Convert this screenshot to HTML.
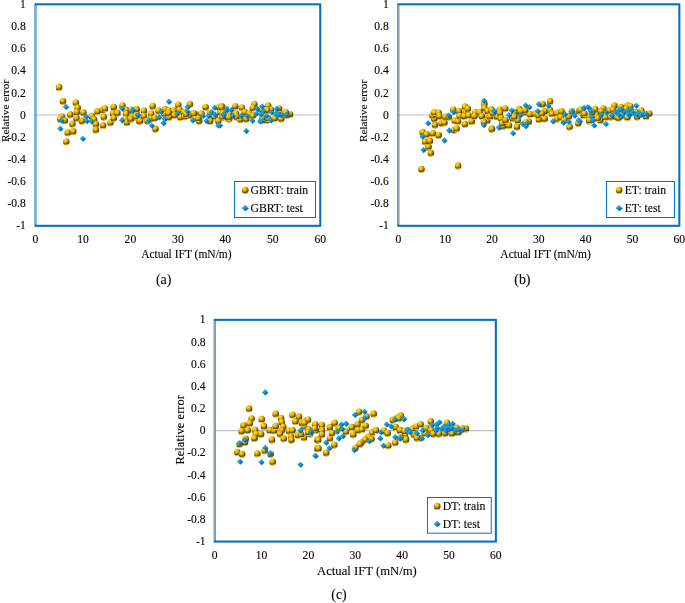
<!DOCTYPE html>
<html lang="en"><head><meta charset="utf-8"><title>Relative error plots</title>
<style>
html,body{margin:0;padding:0;background:#fff;}
body{width:685px;height:603px;overflow:hidden;}
svg{display:block;}
svg text{font-family:"Liberation Serif","Times New Roman",serif;fill:#000;stroke:#000;stroke-width:0.1px;}
.h{letter-spacing:0;}
.hc{letter-spacing:0;}
</style></head><body>
<svg width="685" height="603" viewBox="0 0 685 603">
<defs>
<radialGradient id="gs" cx="0.37" cy="0.28" r="0.70">
<stop offset="0" stop-color="#FFE000"/><stop offset="0.24" stop-color="#F8CA00"/><stop offset="0.44" stop-color="#D8A800"/><stop offset="0.62" stop-color="#9A7605"/><stop offset="0.82" stop-color="#5E4805"/><stop offset="1" stop-color="#5E4805"/>
</radialGradient>
<linearGradient id="gr" x1="0.4" y1="0" x2="0.5" y2="1">
<stop offset="0" stop-color="#FFD636" stop-opacity="0"/><stop offset="0.8" stop-color="#FFD636" stop-opacity="0"/><stop offset="0.92" stop-color="#FFD636" stop-opacity="0.9"/><stop offset="1" stop-color="#FFDC50" stop-opacity="1"/>
</linearGradient>
<g id="s"><ellipse rx="3.3" ry="3.55" fill="url(#gs)"/><ellipse rx="3.3" ry="3.55" fill="url(#gr)"/></g>
<g id="d"><path d="M0,-3.05 L3.05,0 L0,3.05 L-3.05,0 Z" fill="#1793CF"/><path d="M0,-3.05 L-3.05,0 L0,0 Z" fill="#1FA6E8"/><path d="M3.05,0 L0,3.05 L0,0 Z" fill="#0A689A"/></g>
<g id="dl"><path d="M0,-3.05 L3.5,0 L0,3.05 L-3.5,0 Z" fill="#1793CF"/><path d="M0,-3.05 L-3.5,0 L0,0 Z" fill="#1FA6E8"/><path d="M3.5,0 L0,3.05 L0,0 Z" fill="#0A689A"/></g>
</defs>
<rect width="685" height="603" fill="#fff"/>
<g id="chart-a">
<line x1="35.5" y1="115" x2="320.25" y2="115" stroke="#BFBFBF" stroke-width="1.1"/>
<rect x="35.5" y="4.3" width="284.75" height="221.5" fill="none" stroke="#0070C0" stroke-width="2.05"/>
<line x1="35.5" y1="5.5" x2="35.5" y2="224.6" stroke="#AAB4BE" stroke-width="1.25" opacity="0.9"/>
<text class="h" x="25.8" y="7.9" font-size="11.6" text-anchor="end">1</text>
<text class="h" x="25.8" y="30.05" font-size="11.6" text-anchor="end">0.8</text>
<text class="h" x="25.8" y="52.2" font-size="11.6" text-anchor="end">0.6</text>
<text class="h" x="25.8" y="74.35" font-size="11.6" text-anchor="end">0.4</text>
<text class="h" x="25.8" y="96.5" font-size="11.6" text-anchor="end">0.2</text>
<text class="h" x="25.8" y="118.65" font-size="11.6" text-anchor="end">0</text>
<text class="h" x="25.8" y="140.8" font-size="11.6" text-anchor="end">-0.2</text>
<text class="h" x="25.8" y="162.95" font-size="11.6" text-anchor="end">-0.4</text>
<text class="h" x="25.8" y="185.1" font-size="11.6" text-anchor="end">-0.6</text>
<text class="h" x="25.8" y="207.25" font-size="11.6" text-anchor="end">-0.8</text>
<text class="h" x="25.8" y="229.4" font-size="11.6" text-anchor="end">-1</text>
<text class="h" x="35.5" y="243" font-size="11.6" text-anchor="middle">0</text>
<text class="h" x="82.96" y="243" font-size="11.6" text-anchor="middle">10</text>
<text class="h" x="130.42" y="243" font-size="11.6" text-anchor="middle">20</text>
<text class="h" x="177.88" y="243" font-size="11.6" text-anchor="middle">30</text>
<text class="h" x="225.33" y="243" font-size="11.6" text-anchor="middle">40</text>
<text class="h" x="272.79" y="243" font-size="11.6" text-anchor="middle">50</text>
<text class="h" x="320.25" y="243" font-size="11.6" text-anchor="middle">60</text>
<text transform="translate(8.5 142.1) rotate(-90)" font-size="11.3" textLength="62.4" lengthAdjust="spacing">Relative error</text>
<text class="h" x="186.4" y="257.5" font-size="11.5" text-anchor="middle">Actual IFT (mN/m)</text>
<text x="163.6" y="284.3" font-size="13.9" text-anchor="middle">(a)</text>
<g><use href="#s" x="59.1" y="87.4"/><use href="#s" x="62.95" y="101.2"/><use href="#s" x="75.9" y="102.8"/><use href="#s" x="77.7" y="107.7"/><use href="#s" x="76.8" y="112.3"/><use href="#s" x="70.2" y="114.8"/><use href="#s" x="83.4" y="112.8"/><use href="#s" x="61.9" y="116.7"/><use href="#s" x="60.4" y="119.3"/><use href="#s" x="64.8" y="120.8"/><use href="#s" x="76.5" y="118.2"/><use href="#s" x="81.9" y="121.1"/><use href="#s" x="72.4" y="124"/><use href="#s" x="67.7" y="132.8"/><use href="#s" x="73.3" y="131.6"/><use href="#s" x="66.3" y="141.8"/><use href="#s" x="91.8" y="116.4"/><use href="#s" x="94" y="119.6"/><use href="#s" x="95.9" y="124.3"/><use href="#s" x="95.9" y="129.9"/><use href="#s" x="97.4" y="111.6"/><use href="#s" x="102.8" y="110.1"/><use href="#s" x="105" y="108.7"/><use href="#s" x="103.8" y="117"/><use href="#s" x="103.1" y="125.5"/><use href="#s" x="110.4" y="122.8"/><use href="#s" x="113.7" y="107.2"/><use href="#s" x="113" y="113.5"/><use href="#s" x="113.7" y="118.2"/><use href="#s" x="117.4" y="113.1"/><use href="#s" x="122.5" y="105.8"/><use href="#s" x="126.1" y="110.1"/><use href="#s" x="126.1" y="113.8"/><use href="#s" x="125.4" y="118.9"/><use href="#s" x="126.9" y="122.6"/><use href="#s" x="130.5" y="119.6"/><use href="#s" x="132" y="110.9"/><use href="#s" x="136.4" y="113.8"/><use href="#s" x="137.1" y="117.4"/><use href="#s" x="139.3" y="121.1"/><use href="#s" x="131.5" y="110.1"/><use href="#s" x="136.6" y="109.4"/><use href="#s" x="130.7" y="118.9"/><use href="#s" x="135.8" y="116.7"/><use href="#s" x="140.2" y="121.1"/><use href="#s" x="143.9" y="110.9"/><use href="#s" x="143.9" y="116"/><use href="#s" x="152.6" y="106.2"/><use href="#s" x="151.2" y="113.8"/><use href="#s" x="150.4" y="118.9"/><use href="#s" x="155.5" y="129.1"/><use href="#s" x="154.8" y="118.2"/><use href="#s" x="158.5" y="110.9"/><use href="#s" x="165" y="109.4"/><use href="#s" x="168.7" y="110.9"/><use href="#s" x="168.7" y="117.4"/><use href="#s" x="164.3" y="113.8"/><use href="#s" x="173.8" y="110.9"/><use href="#s" x="178.2" y="105"/><use href="#s" x="179.6" y="110.1"/><use href="#s" x="180.4" y="117.4"/><use href="#s" x="184" y="112.3"/><use href="#s" x="184.7" y="116.7"/><use href="#s" x="189.9" y="104.3"/><use href="#s" x="189.1" y="115.3"/><use href="#s" x="195.7" y="114.5"/><use href="#s" x="195" y="118.2"/><use href="#s" x="199.3" y="121.1"/><use href="#s" x="201.5" y="113.8"/><use href="#s" x="205.6" y="107.2"/><use href="#s" x="210.3" y="113.1"/><use href="#s" x="209.6" y="119.6"/><use href="#s" x="214.7" y="116.7"/><use href="#s" x="218.3" y="121.1"/><use href="#s" x="219" y="107.2"/><use href="#s" x="222" y="106.5"/><use href="#s" x="220.5" y="112.3"/><use href="#s" x="225.6" y="109.4"/><use href="#s" x="224.2" y="117.4"/><use href="#s" x="229.3" y="113.8"/><use href="#s" x="229.3" y="118.9"/><use href="#s" x="221.5" y="107.2"/><use href="#s" x="235.3" y="106.5"/><use href="#s" x="241.9" y="107.7"/><use href="#s" x="222.9" y="113.8"/><use href="#s" x="228.8" y="117.4"/><use href="#s" x="236.1" y="113.8"/><use href="#s" x="240.4" y="119.6"/><use href="#s" x="244.8" y="112.3"/><use href="#s" x="249.2" y="113.8"/><use href="#s" x="254.3" y="104.3"/><use href="#s" x="252.8" y="108"/><use href="#s" x="260.9" y="109.4"/><use href="#s" x="268.2" y="105.8"/><use href="#s" x="271.1" y="110.1"/><use href="#s" x="266.7" y="120.4"/><use href="#s" x="262.3" y="118.2"/><use href="#s" x="278.4" y="110.9"/><use href="#s" x="281.3" y="118.9"/><use href="#s" x="284.2" y="113.8"/><use href="#s" x="290.1" y="114.5"/><use href="#s" x="287.2" y="115.3"/><use href="#s" x="267.1" y="110.3"/><use href="#s" x="279.1" y="108.7"/><use href="#s" x="236.4" y="116.9"/><use href="#s" x="246.3" y="119.1"/><use href="#s" x="252.8" y="115.8"/><use href="#s" x="268.2" y="118.5"/><use href="#s" x="285.7" y="112.5"/><use href="#s" x="274.7" y="118.5"/><use href="#s" x="168.6" y="113.1"/><use href="#s" x="186.1" y="114.2"/><use href="#s" x="198.2" y="118.5"/><use href="#s" x="210.2" y="121.3"/><use href="#s" x="222.3" y="116.9"/><use href="#s" x="174.6" y="115.3"/><use href="#s" x="193.8" y="113.6"/><use href="#s" x="147.5" y="121"/></g>
<g><use href="#d" x="66" y="106.9"/><use href="#d" x="61.6" y="120.4"/><use href="#d" x="60.4" y="128.7"/><use href="#d" x="82.9" y="138.8"/><use href="#d" x="86.3" y="116.7"/><use href="#d" x="87" y="121.1"/><use href="#d" x="91.8" y="121.4"/><use href="#d" x="122.2" y="108.7"/><use href="#d" x="122.2" y="120.4"/><use href="#d" x="133" y="110.1"/><use href="#d" x="138.1" y="115.3"/><use href="#d" x="169" y="101.8"/><use href="#d" x="132.9" y="110.1"/><use href="#d" x="138" y="115.3"/><use href="#d" x="149" y="120.4"/><use href="#d" x="151.9" y="125.8"/><use href="#d" x="161.4" y="111.6"/><use href="#d" x="159.2" y="117.4"/><use href="#d" x="165" y="118.9"/><use href="#d" x="163.6" y="123.3"/><use href="#d" x="177.4" y="113.8"/><use href="#d" x="187.7" y="107.2"/><use href="#d" x="187.7" y="111.6"/><use href="#d" x="192.8" y="120.4"/><use href="#d" x="203" y="116"/><use href="#d" x="206.6" y="121.1"/><use href="#d" x="208.8" y="116"/><use href="#d" x="211.8" y="112.3"/><use href="#d" x="214.7" y="107.7"/><use href="#d" x="218.3" y="125.5"/><use href="#d" x="223.4" y="114.5"/><use href="#d" x="227.1" y="110.1"/><use href="#d" x="226.6" y="109.4"/><use href="#d" x="231.4" y="110.1"/><use href="#d" x="223.6" y="115.3"/><use href="#d" x="233.1" y="116"/><use href="#d" x="241.2" y="116"/><use href="#d" x="247" y="116"/><use href="#d" x="220" y="125.5"/><use href="#d" x="246.3" y="131"/><use href="#d" x="252.4" y="120.8"/><use href="#d" x="257.2" y="108.7"/><use href="#d" x="262.3" y="106.5"/><use href="#d" x="256.5" y="113.8"/><use href="#d" x="260.9" y="114.5"/><use href="#d" x="260.1" y="121.4"/><use href="#d" x="266.7" y="116"/><use href="#d" x="271.1" y="120.4"/><use href="#d" x="271.8" y="112.3"/><use href="#d" x="276.9" y="108.7"/><use href="#d" x="276.2" y="114.5"/><use href="#d" x="281.3" y="115.3"/><use href="#d" x="286.4" y="115"/><use href="#d" x="262.2" y="121.3"/><use href="#d" x="278.6" y="114.7"/><use href="#d" x="263.8" y="111.4"/><use href="#d" x="215.1" y="114.5"/></g>
<rect x="234.5" y="181.5" width="81" height="36" fill="#fff" stroke="#0070C0" stroke-width="1"/>
<use href="#s" x="245.3" y="190.3"/><use href="#dl" x="245.3" y="208.3"/>
<text class="h" x="250.5" y="193.7" font-size="11.7">GBRT: train</text>
<text class="h" x="250.5" y="211.6" font-size="11.7">GBRT: test</text>
</g>
<g id="chart-b">
<line x1="398.3" y1="115" x2="679.35" y2="115" stroke="#BFBFBF" stroke-width="1.1"/>
<rect x="398.3" y="4.3" width="281.05" height="221.5" fill="none" stroke="#0070C0" stroke-width="2.05"/>
<line x1="398.3" y1="5.5" x2="398.3" y2="224.6" stroke="#AAB4BE" stroke-width="1.25" opacity="0.9"/>
<text class="h" x="388.8" y="7.9" font-size="11.6" text-anchor="end">1</text>
<text class="h" x="388.8" y="30.05" font-size="11.6" text-anchor="end">0.8</text>
<text class="h" x="388.8" y="52.2" font-size="11.6" text-anchor="end">0.6</text>
<text class="h" x="388.8" y="74.35" font-size="11.6" text-anchor="end">0.4</text>
<text class="h" x="388.8" y="96.5" font-size="11.6" text-anchor="end">0.2</text>
<text class="h" x="388.8" y="118.65" font-size="11.6" text-anchor="end">0</text>
<text class="h" x="388.8" y="140.8" font-size="11.6" text-anchor="end">-0.2</text>
<text class="h" x="388.8" y="162.95" font-size="11.6" text-anchor="end">-0.4</text>
<text class="h" x="388.8" y="185.1" font-size="11.6" text-anchor="end">-0.6</text>
<text class="h" x="388.8" y="207.25" font-size="11.6" text-anchor="end">-0.8</text>
<text class="h" x="388.8" y="229.4" font-size="11.6" text-anchor="end">-1</text>
<text class="h" x="398.3" y="243" font-size="11.6" text-anchor="middle">0</text>
<text class="h" x="445.14" y="243" font-size="11.6" text-anchor="middle">10</text>
<text class="h" x="491.98" y="243" font-size="11.6" text-anchor="middle">20</text>
<text class="h" x="538.83" y="243" font-size="11.6" text-anchor="middle">30</text>
<text class="h" x="585.67" y="243" font-size="11.6" text-anchor="middle">40</text>
<text class="h" x="632.51" y="243" font-size="11.6" text-anchor="middle">50</text>
<text class="h" x="679.35" y="243" font-size="11.6" text-anchor="middle">60</text>
<text transform="translate(367.2 142.1) rotate(-90)" font-size="11.3" textLength="62.4" lengthAdjust="spacing">Relative error</text>
<text class="h" x="545.6" y="257.5" font-size="11.5" text-anchor="middle">Actual IFT (mN/m)</text>
<text x="522.4" y="284.3" font-size="13.9" text-anchor="middle">(b)</text>
<g><use href="#s" x="421.5" y="169.3"/><use href="#s" x="458.1" y="165.9"/><use href="#s" x="430.9" y="153.1"/><use href="#s" x="428.5" y="146.9"/><use href="#s" x="425.1" y="141.8"/><use href="#s" x="429.9" y="141.1"/><use href="#s" x="422.6" y="132.3"/><use href="#s" x="426.6" y="134.5"/><use href="#s" x="432.8" y="133.5"/><use href="#s" x="438.7" y="135.3"/><use href="#s" x="435" y="125"/><use href="#s" x="434.3" y="118.9"/><use href="#s" x="432.4" y="115.5"/><use href="#s" x="434.3" y="112.6"/><use href="#s" x="438.7" y="113.1"/><use href="#s" x="439.4" y="116.3"/><use href="#s" x="441.6" y="123.3"/><use href="#s" x="444.5" y="122.8"/><use href="#s" x="445.3" y="117"/><use href="#s" x="448.9" y="117"/><use href="#s" x="453.3" y="109.7"/><use href="#s" x="454.7" y="120.7"/><use href="#s" x="458.1" y="121.4"/><use href="#s" x="454" y="130.1"/><use href="#s" x="456.6" y="128.7"/><use href="#s" x="459.1" y="111.2"/><use href="#s" x="459.6" y="116"/><use href="#s" x="465" y="106.8"/><use href="#s" x="465.7" y="111.9"/><use href="#s" x="464.2" y="116.3"/><use href="#s" x="467.9" y="109"/><use href="#s" x="468.6" y="115.5"/><use href="#s" x="465" y="124.3"/><use href="#s" x="471.8" y="121.4"/><use href="#s" x="475.2" y="112.6"/><use href="#s" x="474.5" y="116.3"/><use href="#s" x="479.6" y="112.6"/><use href="#s" x="481.8" y="116.3"/><use href="#s" x="484.4" y="103.9"/><use href="#s" x="484.4" y="108.2"/><use href="#s" x="487.6" y="111.2"/><use href="#s" x="488.3" y="117"/><use href="#s" x="487.3" y="120.7"/><use href="#s" x="483.9" y="122.1"/><use href="#s" x="492" y="129.1"/><use href="#s" x="491.2" y="109.7"/><use href="#s" x="496.4" y="116.3"/><use href="#s" x="499.3" y="111.2"/><use href="#s" x="491.5" y="110.1"/><use href="#s" x="491.8" y="129.1"/><use href="#s" x="499.5" y="110.1"/><use href="#s" x="505.3" y="108.7"/><use href="#s" x="498" y="116.7"/><use href="#s" x="502.4" y="120.4"/><use href="#s" x="503.1" y="126.2"/><use href="#s" x="509" y="125.5"/><use href="#s" x="511.9" y="116.7"/><use href="#s" x="517" y="126.9"/><use href="#s" x="517.7" y="120.4"/><use href="#s" x="519.2" y="109.4"/><use href="#s" x="516.3" y="113.1"/><use href="#s" x="525" y="112.3"/><use href="#s" x="528.7" y="121.8"/><use href="#s" x="530.1" y="114.5"/><use href="#s" x="535.3" y="113.8"/><use href="#s" x="538.9" y="119.6"/><use href="#s" x="544.7" y="118.9"/><use href="#s" x="542.6" y="104.3"/><use href="#s" x="550.1" y="101.4"/><use href="#s" x="544.7" y="111.6"/><use href="#s" x="549.9" y="110.1"/><use href="#s" x="552" y="113.8"/><use href="#s" x="557.2" y="113.1"/><use href="#s" x="561.5" y="111.6"/><use href="#s" x="557.2" y="118.9"/><use href="#s" x="560.8" y="117.4"/><use href="#s" x="569.6" y="126.9"/><use href="#s" x="568.8" y="116.7"/><use href="#s" x="571.8" y="111.6"/><use href="#s" x="579.1" y="110.9"/><use href="#s" x="578.3" y="123.3"/><use href="#s" x="583.4" y="115.3"/><use href="#s" x="589.3" y="116.7"/><use href="#s" x="589.3" y="121.1"/><use href="#s" x="490" y="116.7"/><use href="#s" x="580.7" y="110.1"/><use href="#s" x="584.4" y="113.8"/><use href="#s" x="589.5" y="120.4"/><use href="#s" x="595.3" y="109.4"/><use href="#s" x="596.1" y="115.3"/><use href="#s" x="600.4" y="120.4"/><use href="#s" x="603.4" y="108.7"/><use href="#s" x="604.1" y="113.8"/><use href="#s" x="609.2" y="110.9"/><use href="#s" x="614.3" y="105.8"/><use href="#s" x="615" y="113.8"/><use href="#s" x="620.9" y="107.2"/><use href="#s" x="627.4" y="105.5"/><use href="#s" x="630.4" y="106.5"/><use href="#s" x="628.2" y="113.8"/><use href="#s" x="635.5" y="112.3"/><use href="#s" x="641.3" y="110.9"/><use href="#s" x="642.8" y="114.5"/><use href="#s" x="649.3" y="113.8"/><use href="#s" x="622.3" y="115.3"/><use href="#s" x="492.9" y="113.1"/><use href="#s" x="500" y="113.1"/><use href="#s" x="501.1" y="118.5"/><use href="#s" x="502.2" y="123.5"/><use href="#s" x="505.5" y="120.2"/><use href="#s" x="512.6" y="118.5"/><use href="#s" x="514.3" y="112.5"/><use href="#s" x="520.8" y="111.4"/><use href="#s" x="514.3" y="116.9"/><use href="#s" x="525.2" y="110.3"/><use href="#s" x="525.8" y="122.9"/><use href="#s" x="538.4" y="115.3"/><use href="#s" x="541.7" y="113.6"/><use href="#s" x="597.7" y="118.5"/><use href="#s" x="605.4" y="117.4"/><use href="#s" x="613" y="109.8"/><use href="#s" x="626.2" y="109.2"/><use href="#s" x="616.3" y="116.9"/><use href="#s" x="592.2" y="112.5"/><use href="#s" x="564.3" y="120.7"/><use href="#s" x="601.1" y="111.4"/><use href="#s" x="646" y="116.4"/><use href="#s" x="637.2" y="116.9"/><use href="#s" x="627.4" y="117.4"/><use href="#s" x="618.6" y="118"/><use href="#s" x="610.9" y="116.9"/></g>
<g><use href="#d" x="484.2" y="100.9"/><use href="#d" x="453.7" y="112.2"/><use href="#d" x="448.6" y="115.5"/><use href="#d" x="428.2" y="123.3"/><use href="#d" x="449.3" y="130.6"/><use href="#d" x="422.6" y="136.7"/><use href="#d" x="444.5" y="140.4"/><use href="#d" x="423.6" y="150.1"/><use href="#d" x="483.9" y="125.3"/><use href="#d" x="494.2" y="111.2"/><use href="#d" x="499.3" y="127.2"/><use href="#d" x="494.4" y="111.6"/><use href="#d" x="499.1" y="127.7"/><use href="#d" x="513.1" y="133.2"/><use href="#d" x="509" y="115.3"/><use href="#d" x="511.9" y="110.6"/><use href="#d" x="520.4" y="115.5"/><use href="#d" x="522.8" y="124"/><use href="#d" x="525.8" y="126.2"/><use href="#d" x="525.8" y="105.5"/><use href="#d" x="529.4" y="107.2"/><use href="#d" x="537.9" y="111.3"/><use href="#d" x="538.9" y="104.3"/><use href="#d" x="548.4" y="105.8"/><use href="#d" x="553.1" y="121.4"/><use href="#d" x="565.2" y="114.2"/><use href="#d" x="563.4" y="122.6"/><use href="#d" x="568.8" y="121.8"/><use href="#d" x="573.9" y="113.8"/><use href="#d" x="578.8" y="120.4"/><use href="#d" x="572.5" y="111.6"/><use href="#d" x="584.2" y="108"/><use href="#d" x="589.3" y="108.2"/><use href="#d" x="584.4" y="108"/><use href="#d" x="588" y="107.2"/><use href="#d" x="590.9" y="111.3"/><use href="#d" x="591.7" y="116.7"/><use href="#d" x="593.1" y="120.4"/><use href="#d" x="594.2" y="125.5"/><use href="#d" x="580" y="121.1"/><use href="#d" x="601.2" y="115"/><use href="#d" x="606.3" y="112.3"/><use href="#d" x="606" y="124"/><use href="#d" x="612.1" y="115.5"/><use href="#d" x="615.8" y="112.3"/><use href="#d" x="619.4" y="110.1"/><use href="#d" x="621.6" y="116.7"/><use href="#d" x="618.7" y="114.5"/><use href="#d" x="623.8" y="112.3"/><use href="#d" x="627.4" y="110.9"/><use href="#d" x="630.4" y="114.5"/><use href="#d" x="631.1" y="109.4"/><use href="#d" x="636.2" y="105.8"/><use href="#d" x="634.7" y="113.8"/><use href="#d" x="639.1" y="113.1"/><use href="#d" x="643.5" y="114.5"/><use href="#d" x="646.4" y="113.8"/><use href="#d" x="526.9" y="123.7"/><use href="#d" x="574.7" y="115.8"/><use href="#d" x="621.8" y="109.2"/><use href="#d" x="628.4" y="114.2"/><use href="#d" x="632.8" y="112.5"/><use href="#d" x="636.7" y="114.7"/><use href="#d" x="641.1" y="114.7"/></g>
<rect x="606.55" y="181.5" width="67.95" height="36" fill="#fff" stroke="#0070C0" stroke-width="1"/>
<use href="#s" x="619.2" y="190.3"/><use href="#dl" x="619.2" y="208.3"/>
<text class="h" x="624.7" y="193.7" font-size="11.7">ET: train</text>
<text class="h" x="624.7" y="211.8" font-size="11.7">ET: test</text>
</g>
<g id="chart-c">
<line x1="214.7" y1="430.65" x2="495.85" y2="430.65" stroke="#BFBFBF" stroke-width="1.1"/>
<rect x="214.7" y="319.85" width="281.15" height="221.7" fill="none" stroke="#0070C0" stroke-width="2.05"/>
<line x1="214.7" y1="321.05" x2="214.7" y2="540.35" stroke="#AAB4BE" stroke-width="1.25" opacity="0.9"/>
<text class="h" x="205.6" y="323.45" font-size="11.6" text-anchor="end">1</text>
<text class="h" x="205.6" y="345.62" font-size="11.6" text-anchor="end">0.8</text>
<text class="h" x="205.6" y="367.79" font-size="11.6" text-anchor="end">0.6</text>
<text class="h" x="205.6" y="389.96" font-size="11.6" text-anchor="end">0.4</text>
<text class="h" x="205.6" y="412.13" font-size="11.6" text-anchor="end">0.2</text>
<text class="h" x="205.6" y="434.3" font-size="11.6" text-anchor="end">0</text>
<text class="h" x="205.6" y="456.47" font-size="11.6" text-anchor="end">-0.2</text>
<text class="h" x="205.6" y="478.64" font-size="11.6" text-anchor="end">-0.4</text>
<text class="h" x="205.6" y="500.81" font-size="11.6" text-anchor="end">-0.6</text>
<text class="h" x="205.6" y="522.98" font-size="11.6" text-anchor="end">-0.8</text>
<text class="h" x="205.6" y="545.15" font-size="11.6" text-anchor="end">-1</text>
<text class="h" x="214.7" y="558.5" font-size="11.6" text-anchor="middle">0</text>
<text class="h" x="261.56" y="558.5" font-size="11.6" text-anchor="middle">10</text>
<text class="h" x="308.42" y="558.5" font-size="11.6" text-anchor="middle">20</text>
<text class="h" x="355.27" y="558.5" font-size="11.6" text-anchor="middle">30</text>
<text class="h" x="402.13" y="558.5" font-size="11.6" text-anchor="middle">40</text>
<text class="h" x="448.99" y="558.5" font-size="11.6" text-anchor="middle">50</text>
<text class="h" x="495.85" y="558.5" font-size="11.6" text-anchor="middle">60</text>
<text transform="translate(184.4 464.6) rotate(-90)" font-size="12.4" textLength="69.6" lengthAdjust="spacing">Relative error</text>
<text class="hc" x="366.9" y="574.9" font-size="12.7" text-anchor="middle">Actual IFT (mN/m)</text>
<text x="339" y="598.6" font-size="13.9" text-anchor="middle">(c)</text>
<g><use href="#s" x="249.1" y="408.8"/><use href="#s" x="251.6" y="418.7"/><use href="#s" x="249.8" y="423.5"/><use href="#s" x="243.5" y="425.5"/><use href="#s" x="241.6" y="431.4"/><use href="#s" x="247.9" y="430.4"/><use href="#s" x="255.2" y="430.4"/><use href="#s" x="256" y="434.3"/><use href="#s" x="254.5" y="438.4"/><use href="#s" x="261.1" y="434.3"/><use href="#s" x="245.7" y="439.1"/><use href="#s" x="245" y="442.5"/><use href="#s" x="239.6" y="444.2"/><use href="#s" x="237.3" y="452.3"/><use href="#s" x="242.1" y="454.2"/><use href="#s" x="257.4" y="453.7"/><use href="#s" x="264.7" y="450.8"/><use href="#s" x="270.6" y="454.2"/><use href="#s" x="272.7" y="462"/><use href="#s" x="261.8" y="419.4"/><use href="#s" x="264" y="426.4"/><use href="#s" x="269.8" y="430.4"/><use href="#s" x="272" y="439.9"/><use href="#s" x="274.2" y="430.8"/><use href="#s" x="275.7" y="426.4"/><use href="#s" x="275.7" y="414"/><use href="#s" x="281.1" y="418.2"/><use href="#s" x="281.8" y="422.3"/><use href="#s" x="283.3" y="427"/><use href="#s" x="281.8" y="430.4"/><use href="#s" x="280" y="434"/><use href="#s" x="283.7" y="438.8"/><use href="#s" x="288.8" y="431.1"/><use href="#s" x="292.5" y="430.4"/><use href="#s" x="291" y="436.9"/><use href="#s" x="291.4" y="440.1"/><use href="#s" x="292.5" y="415"/><use href="#s" x="299" y="416.9"/><use href="#s" x="295.4" y="421.6"/><use href="#s" x="301.9" y="423.1"/><use href="#s" x="306.6" y="420.6"/><use href="#s" x="304.1" y="426.7"/><use href="#s" x="298" y="435.2"/><use href="#s" x="304.1" y="437.7"/><use href="#s" x="308.5" y="429.6"/><use href="#s" x="310" y="434"/><use href="#s" x="315.1" y="425.3"/><use href="#s" x="315.8" y="430.4"/><use href="#s" x="317.3" y="439.9"/><use href="#s" x="317.3" y="448.6"/><use href="#s" x="308" y="420.1"/><use href="#s" x="315.3" y="424.5"/><use href="#s" x="314.6" y="428.9"/><use href="#s" x="321.9" y="425.3"/><use href="#s" x="321.9" y="430.4"/><use href="#s" x="321.9" y="434.7"/><use href="#s" x="318.2" y="439.9"/><use href="#s" x="318.5" y="448.6"/><use href="#s" x="326.2" y="453"/><use href="#s" x="334.3" y="445"/><use href="#s" x="329.9" y="438.4"/><use href="#s" x="332.1" y="433.3"/><use href="#s" x="329.9" y="427.4"/><use href="#s" x="334.6" y="423.1"/><use href="#s" x="338.7" y="428.2"/><use href="#s" x="346" y="431.8"/><use href="#s" x="351.8" y="427.4"/><use href="#s" x="353.3" y="434.7"/><use href="#s" x="357.6" y="424.5"/><use href="#s" x="358.4" y="430.4"/><use href="#s" x="362" y="429.6"/><use href="#s" x="359.1" y="412.1"/><use href="#s" x="362" y="420.1"/><use href="#s" x="366.4" y="416.5"/><use href="#s" x="365.7" y="426"/><use href="#s" x="373.7" y="413.9"/><use href="#s" x="372.2" y="432.6"/><use href="#s" x="368.6" y="436.9"/><use href="#s" x="371.5" y="439.1"/><use href="#s" x="364.9" y="439.9"/><use href="#s" x="361.3" y="442.8"/><use href="#s" x="359.8" y="444.2"/><use href="#s" x="355.4" y="448.3"/><use href="#s" x="375.9" y="430.4"/><use href="#s" x="383.9" y="431.1"/><use href="#s" x="387.6" y="433.3"/><use href="#s" x="388.3" y="445.7"/><use href="#s" x="395.2" y="442.8"/><use href="#s" x="395.6" y="427.4"/><use href="#s" x="400" y="430.4"/><use href="#s" x="392.7" y="420.1"/><use href="#s" x="397.1" y="418"/><use href="#s" x="400.7" y="415.8"/><use href="#s" x="398.5" y="417.2"/><use href="#s" x="405.1" y="434"/><use href="#s" x="405.8" y="439.1"/><use href="#s" x="310.2" y="432.6"/><use href="#s" x="400.9" y="416.5"/><use href="#s" x="398.7" y="418.7"/><use href="#s" x="400.2" y="430.4"/><use href="#s" x="406" y="439.9"/><use href="#s" x="400.2" y="437.7"/><use href="#s" x="412.6" y="428.9"/><use href="#s" x="416.2" y="426.7"/><use href="#s" x="420.6" y="424.5"/><use href="#s" x="414.1" y="434.7"/><use href="#s" x="419.2" y="438.4"/><use href="#s" x="426.5" y="428.2"/><use href="#s" x="430.8" y="421.6"/><use href="#s" x="432.3" y="432.6"/><use href="#s" x="438.9" y="434"/><use href="#s" x="446.9" y="423.1"/><use href="#s" x="445.4" y="433.3"/><use href="#s" x="453.5" y="432.6"/><use href="#s" x="459.3" y="430.4"/><use href="#s" x="465.9" y="428.9"/><use href="#s" x="462.2" y="428.9"/><use href="#s" x="406.8" y="430.4"/><use href="#s" x="404.9" y="431.4"/><use href="#s" x="416.9" y="437.9"/><use href="#s" x="424.6" y="433.5"/><use href="#s" x="431.1" y="430.3"/><use href="#s" x="433.3" y="434.1"/><use href="#s" x="451.9" y="433.5"/><use href="#s" x="458.5" y="432.4"/><use href="#s" x="456.3" y="428.1"/><use href="#s" x="304.4" y="423.1"/><use href="#s" x="301.1" y="434.6"/><use href="#s" x="308.2" y="432.4"/></g>
<g><use href="#d" x="265.2" y="392.4"/><use href="#d" x="239.6" y="443.2"/><use href="#d" x="245" y="440.1"/><use href="#d" x="240.2" y="461.8"/><use href="#d" x="261.5" y="462.2"/><use href="#d" x="265.4" y="447.9"/><use href="#d" x="270.3" y="453.4"/><use href="#d" x="300.5" y="430.8"/><use href="#d" x="311.1" y="432.6"/><use href="#d" x="300.5" y="464.7"/><use href="#d" x="315.5" y="455.9"/><use href="#d" x="310.9" y="431.8"/><use href="#d" x="315.6" y="455.9"/><use href="#d" x="326.2" y="442.8"/><use href="#d" x="329.6" y="448.3"/><use href="#d" x="337.2" y="431.8"/><use href="#d" x="338.9" y="438.4"/><use href="#d" x="343" y="436.2"/><use href="#d" x="341.6" y="424.5"/><use href="#d" x="346.2" y="423.8"/><use href="#d" x="342.3" y="428.9"/><use href="#d" x="355" y="415"/><use href="#d" x="364.5" y="411.8"/><use href="#d" x="365.2" y="418"/><use href="#d" x="354.4" y="450.1"/><use href="#d" x="369.3" y="441.3"/><use href="#d" x="380.3" y="438.4"/><use href="#d" x="381" y="432.3"/><use href="#d" x="383.5" y="445.7"/><use href="#d" x="386.8" y="424.5"/><use href="#d" x="391.2" y="426.4"/><use href="#d" x="395.2" y="419.4"/><use href="#d" x="395.3" y="437.2"/><use href="#d" x="400.7" y="437.7"/><use href="#d" x="403.9" y="419.1"/><use href="#d" x="407.3" y="430.4"/><use href="#d" x="404.1" y="419.1"/><use href="#d" x="400.2" y="438.4"/><use href="#d" x="408.2" y="430.4"/><use href="#d" x="417" y="433.3"/><use href="#d" x="422.8" y="430.4"/><use href="#d" x="422.1" y="438.4"/><use href="#d" x="427.9" y="435.2"/><use href="#d" x="432.3" y="425.3"/><use href="#d" x="436" y="430.4"/><use href="#d" x="436.7" y="424.5"/><use href="#d" x="439.6" y="422.3"/><use href="#d" x="441.8" y="428.9"/><use href="#d" x="446.2" y="431.1"/><use href="#d" x="449.1" y="424.5"/><use href="#d" x="452.7" y="423.8"/><use href="#d" x="452" y="428.2"/><use href="#d" x="455.7" y="430.4"/><use href="#d" x="462.2" y="430.4"/><use href="#d" x="444" y="426.7"/><use href="#d" x="410.3" y="432.4"/><use href="#d" x="437.2" y="428.1"/><use href="#d" x="449.7" y="429.2"/><use href="#d" x="459.1" y="429.7"/><use href="#d" x="446.5" y="428.1"/></g>
<rect x="427.5" y="497.5" width="63.75" height="35.7" fill="#fff" stroke="#0070C0" stroke-width="1"/>
<use href="#s" x="437.2" y="506.4"/><use href="#dl" x="437.2" y="524.1"/>
<text class="h" x="442.7" y="509.7" font-size="11.7">DT: train</text>
<text class="h" x="442.7" y="527.7" font-size="11.7">DT: test</text>
</g>
</svg>
</body></html>
